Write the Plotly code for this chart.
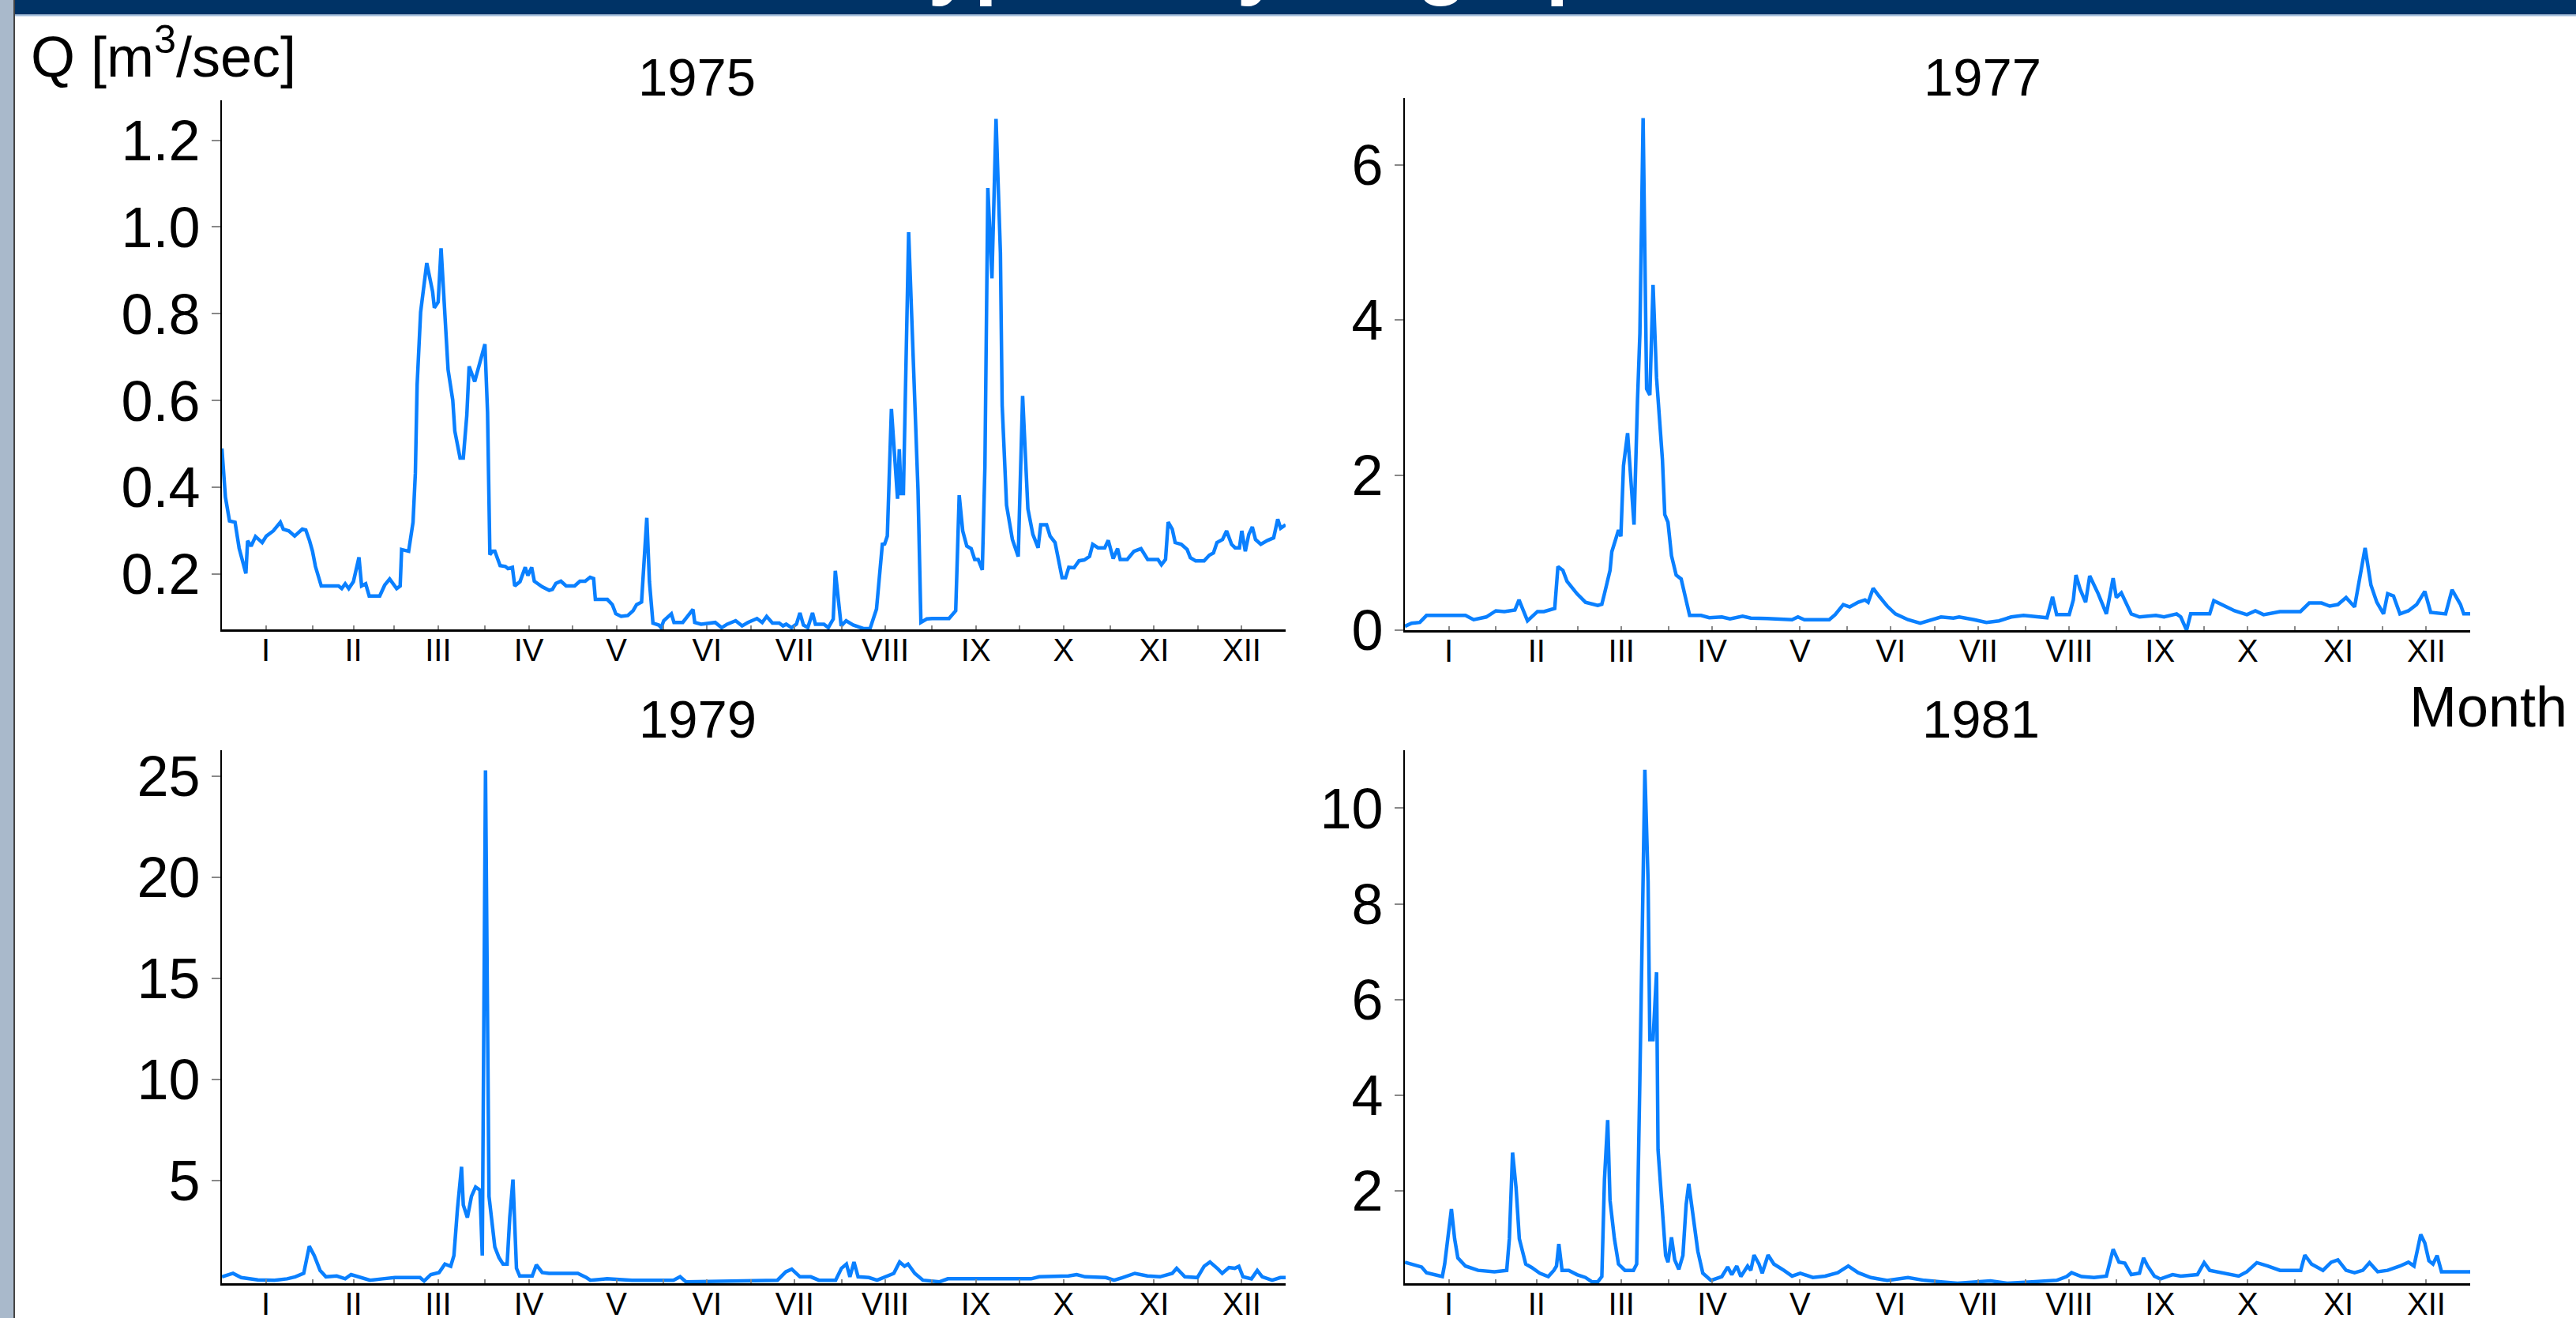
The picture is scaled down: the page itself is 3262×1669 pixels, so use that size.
import plotly.graph_objects as go

W, H = 3262, 1669
FONT = "Liberation Sans, Arial, sans-serif"
LINE_COLOR = "#0A80FF"

years = ["1975", "1977", "1979", "1981"]

# (day of year, Q [m3/sec])
q1975 = [(1, 0.49), (2.2, 0.378), (3.6, 0.323), (5.5, 0.32), (6.9, 0.26), (9.2, 0.202), (9.8, 0.277),
         (11, 0.265), (12.5, 0.287), (14.8, 0.273), (16.2, 0.288), (18.6, 0.30), (21, 0.32), (22, 0.304),
         (23.9, 0.30), (25.9, 0.288), (28.5, 0.304), (29.7, 0.302), (31, 0.277), (32, 0.253), (33, 0.218),
         (35, 0.173), (40.9, 0.173), (42, 0.167), (43.2, 0.178), (44.4, 0.167), (46, 0.183), (47.9, 0.239),
         (48.8, 0.173), (50.2, 0.178), (51.4, 0.15), (55, 0.15), (56.7, 0.175), (58.4, 0.189), (60.8, 0.167),
         (62, 0.173), (62.5, 0.257), (64.9, 0.253), (66.4, 0.32), (67.2, 0.433), (67.8, 0.636), (69, 0.804),
         (71.1, 0.917), (73.1, 0.851), (73.7, 0.814), (75, 0.827), (76, 0.951), (76.6, 0.882), (78.4, 0.671),
         (80, 0.601), (80.7, 0.530), (82.5, 0.468), (83.6, 0.468), (84.8, 0.566), (85.6, 0.679), (87.5, 0.644),
         (89.5, 0.695), (91, 0.73), (91.9, 0.573), (92.7, 0.245), (93.6, 0.253), (94.4, 0.253), (96.2, 0.22),
         (98, 0.218), (98.9, 0.213), (100.4, 0.216), (101.2, 0.173), (103, 0.183), (104.8, 0.216),
         (105.7, 0.197), (107, 0.216), (107.9, 0.184), (110.6, 0.171), (113, 0.163), (114.1, 0.165),
         (115.3, 0.179), (117, 0.184), (118.8, 0.173), (121.7, 0.173), (123.5, 0.184), (125.3, 0.184),
         (127, 0.193), (128.2, 0.19), (128.8, 0.142), (132.9, 0.142), (134.6, 0.13), (135.8, 0.109),
         (137.6, 0.103), (139.9, 0.105), (141.7, 0.116), (142.9, 0.13), (144.6, 0.136), (146.4, 0.33),
         (147.3, 0.183), (148.5, 0.0875), (150.5, 0.083), (151.3, 0.077), (152.2, 0.093), (154.8, 0.109),
         (155.7, 0.089), (158.7, 0.089), (162.2, 0.119), (162.8, 0.089), (165, 0.085), (169.8, 0.089),
         (172, 0.077), (173.9, 0.085), (176.8, 0.093), (179, 0.081), (181, 0.089), (184.1, 0.098),
         (185.9, 0.089), (187.4, 0.103), (189.4, 0.0875), (191.7, 0.0875), (193, 0.081), (194.1, 0.085),
         (195.9, 0.077), (197.6, 0.085), (198.8, 0.111), (200, 0.083), (201.5, 0.077), (203.1, 0.111),
         (204.1, 0.085), (207, 0.085), (208.5, 0.077), (210.2, 0.097), (210.9, 0.208), (212.9, 0.081),
         (214.6, 0.093), (217, 0.083), (219.3, 0.079), (220.5, 0.075), (222.8, 0.075), (225, 0.12),
         (227, 0.269), (227.8, 0.27), (228.7, 0.288), (230.1, 0.581), (232.2, 0.374), (232.8, 0.488),
         (233.4, 0.386), (234.2, 0.386), (236, 0.988), (237.5, 0.683), (239.2, 0.394), (240.2, 0.089),
         (242.2, 0.097), (244, 0.098), (249.8, 0.098), (252.1, 0.116), (253.3, 0.382), (254.5, 0.30),
         (255.9, 0.265), (257.4, 0.259), (258.6, 0.234), (259.8, 0.234), (261.2, 0.21), (262.1, 0.448),
         (263.1, 1.09), (264.5, 0.882), (265.9, 1.249), (267.4, 0.94), (268, 0.589), (269.5, 0.359),
         (271.5, 0.28), (273.5, 0.241), (275, 0.611), (276.8, 0.351), (278.5, 0.292), (280.3, 0.261),
         (281.2, 0.314), (283.2, 0.314), (284.4, 0.288), (286.1, 0.273), (287.3, 0.234), (288.5, 0.192),
         (289.7, 0.192), (290.8, 0.216), (292.6, 0.215), (294.3, 0.231), (296.1, 0.233), (297.9, 0.241),
         (299, 0.269), (300.8, 0.261), (303.1, 0.261), (304.3, 0.278), (306, 0.236), (307.5, 0.259),
         (308.4, 0.234), (310.8, 0.234), (313.1, 0.253), (315.5, 0.259), (317.8, 0.234), (321.3, 0.234),
         (322.5, 0.222), (323.9, 0.234), (324.8, 0.32), (326.2, 0.304), (327.2, 0.273), (329.3, 0.269),
         (331.3, 0.257), (332.4, 0.238), (334.2, 0.231), (337.1, 0.231), (338.9, 0.244), (340.3, 0.249),
         (341.5, 0.273), (343.4, 0.28), (344.8, 0.30), (346.5, 0.269), (347.7, 0.261), (349.2, 0.261),
         (350, 0.30), (351.2, 0.253), (352.4, 0.292), (353.6, 0.309), (354.7, 0.28), (356.5, 0.269),
         (358.8, 0.278), (360.9, 0.284), (362.3, 0.327), (363.3, 0.306), (365, 0.314)]

q1977 = [(1, 0.05), (3.3, 0.09), (6.1, 0.10), (8.4, 0.19), (21.7, 0.19), (24.5, 0.135), (28.8, 0.17),
         (32.1, 0.25), (35, 0.24), (38.6, 0.26), (40, 0.39), (42.9, 0.12), (46.3, 0.24), (48.5, 0.24),
         (52.2, 0.28), (53.3, 0.82), (55, 0.77), (56.4, 0.63), (59.8, 0.47), (62.7, 0.36), (66.9, 0.32),
         (68.3, 0.335), (69.2, 0.47), (71.1, 0.77), (71.7, 1.01), (74, 1.29), (74.8, 1.21), (75.7, 2.12),
         (77.1, 2.54), (78.2, 1.93), (79.3, 1.36), (80.5, 2.98), (81.3, 3.82), (82.4, 6.6), (83.6, 3.11),
         (84.7, 3.03), (85.8, 4.45), (87, 3.25), (88.1, 2.74), (89, 2.2), (89.8, 1.49), (90.9, 1.39),
         (92.1, 0.96), (93.7, 0.71), (95.4, 0.66), (96.6, 0.47), (98.3, 0.19), (102.2, 0.19), (105, 0.16),
         (109.3, 0.17), (112.1, 0.145), (116.4, 0.18), (119.2, 0.155), (124.8, 0.15), (130.5, 0.135),
         (133.3, 0.135), (135.3, 0.17), (137.5, 0.135), (146, 0.135), (148, 0.2), (150.8, 0.33), (153, 0.30),
         (155.9, 0.36), (158.2, 0.39), (159.3, 0.36), (161, 0.54), (163, 0.44), (165.8, 0.31), (168.6, 0.21),
         (172.9, 0.135), (177.1, 0.09), (181.4, 0.135), (184.2, 0.17), (188.4, 0.155), (190.4, 0.17),
         (195.5, 0.135), (199.7, 0.10), (204, 0.12), (208.2, 0.17), (212.4, 0.19), (216.7, 0.17),
         (220.4, 0.16), (222.3, 0.43), (223.7, 0.2), (228, 0.2), (229.4, 0.39), (230.3, 0.71), (231.7, 0.53),
         (233.6, 0.36), (235, 0.70), (237.9, 0.47), (240.7, 0.21), (243, 0.67), (244.1, 0.42), (245.8, 0.48),
         (249.2, 0.21), (252, 0.17), (257.6, 0.19), (260.4, 0.17), (264.7, 0.21), (266.1, 0.17), (268.1, 0.0),
         (269.5, 0.21), (276, 0.21), (277.4, 0.38), (280.3, 0.33), (284.5, 0.25), (288.7, 0.2), (291.6, 0.25),
         (294.4, 0.2), (300, 0.24), (307, 0.24), (310, 0.35), (314.2, 0.35), (317, 0.31), (319.8, 0.33),
         (322.6, 0.42), (325.5, 0.30), (326.9, 0.60), (329.1, 1.06), (331.1, 0.58), (333.1, 0.36),
         (335.4, 0.21), (336.8, 0.47), (338.8, 0.44), (341, 0.21), (343.9, 0.25), (346.7, 0.33), (349.5, 0.50),
         (351.5, 0.23), (356.6, 0.21), (358.8, 0.52), (361.7, 0.33), (362.8, 0.21), (365, 0.21)]

q1979 = [(1, 0.25), (4.8, 0.42), (7.6, 0.21), (13.3, 0.10), (19, 0.08), (23.3, 0.15), (26.1, 0.25),
         (29, 0.42), (30.9, 1.76), (32.6, 1.3), (34.6, 0.56), (36.6, 0.25), (40.3, 0.29), (43.2, 0.15),
         (45.2, 0.36), (48.9, 0.21), (51.7, 0.08), (56, 0.15), (60.2, 0.21), (68.8, 0.21), (70.2, 0.04),
         (72.5, 0.36), (75.3, 0.46), (77.3, 0.88), (79.3, 0.77), (80.4, 1.30), (81.6, 3.6), (83, 5.69),
         (83.6, 3.8), (85, 3.18), (86.4, 4.23), (87.8, 4.69), (89.3, 4.54), (90.1, 1.30), (91.2, 25.3),
         (92.4, 4.23), (94.4, 1.72), (95.8, 1.20), (97.2, 0.88), (98.6, 0.88), (99.5, 3.18), (100.6, 5.06),
         (101.8, 0.67), (102.9, 0.29), (107.2, 0.29), (108.6, 0.84), (110.6, 0.46), (112.9, 0.42),
         (122.8, 0.42), (125.7, 0.21), (127.1, 0.08), (132.8, 0.15), (141.3, 0.08), (155.5, 0.08),
         (157.8, 0.25), (159.8, 0.0), (181.2, 0.04), (191.1, 0.08), (194, 0.5), (196, 0.63), (198.8, 0.25),
         (202.5, 0.25), (205.3, 0.08), (211, 0.08), (213, 0.67), (214.7, 0.88), (215.9, 0.25), (217.3, 0.98),
         (218.7, 0.25), (222.4, 0.21), (225.2, 0.08), (228.1, 0.25), (230.9, 0.42), (232.9, 0.98),
         (234.6, 0.77), (235.8, 0.88), (238.1, 0.42), (240.9, 0.08), (246.6, 0.0), (249.4, 0.15),
         (277.9, 0.15), (280.7, 0.25), (290.7, 0.29), (293.5, 0.36), (296.4, 0.25), (303.5, 0.21),
         (306.3, 0.08), (309.2, 0.21), (313.4, 0.42), (317.7, 0.29), (322, 0.25), (326.2, 0.42),
         (327.7, 0.67), (330.5, 0.25), (334.8, 0.21), (337.1, 0.77), (339.1, 0.98), (341.9, 0.63),
         (343.3, 0.42), (345.6, 0.71), (347.6, 0.67), (349, 0.77), (350.4, 0.25), (353.3, 0.15),
         (355.3, 0.56), (357, 0.25), (360.4, 0.08), (363.2, 0.21), (365, 0.21)]

q1981 = [(1, 0.51), (3.3, 0.47), (6.7, 0.41), (8.4, 0.29), (11.2, 0.25), (13.8, 0.21), (14.6, 0.47),
         (15.8, 1.0), (16.9, 1.62), (18, 1.0), (19.1, 0.60), (21.7, 0.43), (26, 0.34), (31.6, 0.31),
         (34.4, 0.34), (35.8, 0.34), (36.7, 1.0), (37.8, 2.80), (39, 2.06), (40.1, 1.0), (42.3, 0.47),
         (44.3, 0.40), (47.1, 0.28), (50, 0.21), (51.9, 0.34), (52.8, 0.43), (53.6, 0.89), (54.7, 0.34),
         (57, 0.34), (59.8, 0.25), (62.7, 0.19), (64.9, 0.10), (66.9, 0.10), (68.3, 0.21), (69.2, 2.24),
         (70.3, 3.48), (71.1, 1.80), (72.6, 1.0), (74, 0.47), (76.2, 0.34), (79.1, 0.34), (80.2, 0.47),
         (81.3, 4.36), (82.2, 7.72), (83, 10.8), (84.1, 8.47), (84.7, 5.16), (85.8, 5.16), (87, 6.57),
         (87.5, 2.86), (88.7, 1.71), (90.1, 0.65), (90.9, 0.51), (92.1, 1.03), (93.2, 0.56), (94.6, 0.36),
         (96, 0.65), (97.1, 1.71), (98, 2.15), (99.4, 1.53), (101.1, 0.74), (102.8, 0.28), (105.6, 0.13),
         (109.3, 0.21), (111.3, 0.41), (112.7, 0.25), (114.4, 0.43), (115.8, 0.21), (118.1, 0.43),
         (119.2, 0.34), (120.3, 0.66), (122, 0.47), (123.1, 0.28), (125.1, 0.66), (127.1, 0.47),
         (130.5, 0.34), (133.3, 0.22), (136.1, 0.28), (140.4, 0.19), (144.6, 0.22), (148.9, 0.29),
         (152.5, 0.43), (155.9, 0.29), (160.2, 0.19), (165.8, 0.13), (172.9, 0.19), (178.5, 0.13),
         (184.2, 0.10), (189.8, 0.07), (201.1, 0.12), (206.8, 0.07), (215.3, 0.10), (223.7, 0.13),
         (227.1, 0.21), (228.8, 0.29), (232.2, 0.21), (236.5, 0.19), (240.7, 0.22), (243, 0.78), (245, 0.51),
         (247, 0.49), (249.2, 0.25), (252, 0.28), (253.4, 0.60), (254.8, 0.43), (257.1, 0.22), (259.1, 0.16),
         (263.3, 0.25), (266.1, 0.22), (271.8, 0.25), (274.1, 0.50), (276, 0.34), (280.3, 0.28),
         (285.9, 0.22), (288.7, 0.31), (292.1, 0.50), (295.8, 0.43), (300, 0.34), (307.1, 0.34),
         (308.5, 0.66), (310.8, 0.47), (314.7, 0.34), (317.5, 0.51), (319.8, 0.56), (322.6, 0.34),
         (325.5, 0.29), (328.3, 0.34), (330.6, 0.50), (333.4, 0.31), (336.8, 0.34), (341, 0.43),
         (343.9, 0.51), (345.8, 0.43), (348.1, 1.09), (349.5, 0.91), (350.9, 0.54), (352.3, 0.47),
         (353.7, 0.65), (355.2, 0.31), (365, 0.31)]

series = [q1975, q1977, q1979, q1981]

# month axis
month_labels = ["I", "II", "III", "IV", "V", "VI", "VII", "VIII", "IX", "X", "XI", "XII"]
month_mid_days = [16, 46, 75, 106, 136, 167, 197, 228, 259, 289, 320, 350]
month_start_days = [32, 60, 91, 121, 152, 182, 213, 244, 274, 305, 335]

# y ticks per panel
yticks = [[0.2, 0.4, 0.6, 0.8, 1.0, 1.2], [0, 2, 4, 6], [5, 10, 15, 20, 25], [2, 4, 6, 8, 10]]
yformats = [".1f", "d", "d", "d"]
yranges = [[0.073, 1.292], [0, 6.86], [-0.07, 26.3], [0.07, 11.21]]

# panel boxes in pixels: (left, right, top, bottom)
boxes = [(281, 1628, 127, 797), (1779, 3128, 124, 798), (281, 1628, 950, 1625), (1779, 3128, 950, 1625)]
title_pos = [(882, 98), (2510, 98), (883, 910), (2508, 910)]


def px(x):
    return x / W


def py(y):
    return 1 - y / H


fig = go.Figure()
tickvals_x = month_mid_days + month_start_days
ticktext_x = month_labels + [""] * len(month_start_days)

layout = dict(
    width=W, height=H,
    margin=dict(l=0, r=0, t=0, b=0, autoexpand=False),
    paper_bgcolor="white", plot_bgcolor="white",
    showlegend=False,
    font=dict(family=FONT, color="black"),
)

for i, data in enumerate(series):
    n = "" if i == 0 else str(i + 1)
    days = [p[0] for p in data]
    vals = [p[1] for p in data]
    fig.add_trace(go.Scatter(x=days, y=vals, mode="lines", xaxis="x" + n, yaxis="y" + n,
                             line=dict(color=LINE_COLOR, width=4.5), hoverinfo="skip"))
    l, r, t, b = boxes[i]
    layout["xaxis" + n] = dict(
        domain=[px(l), px(r)], anchor="y" + n, range=[1, 365], automargin=False,
        showgrid=False, zeroline=False, showline=True, linecolor="black", linewidth=3,
        ticks="inside", ticklen=5, tickwidth=1.5, tickcolor="#888888",
        tickmode="array", tickvals=tickvals_x, ticktext=ticktext_x,
        tickfont=dict(size=40, family=FONT, color="black"), ticklabelstandoff=-11,
    )
    layout["yaxis" + n] = dict(
        domain=[py(b), py(t)], anchor="x" + n, range=yranges[i], automargin=False,
        showgrid=False, zeroline=False, showline=True, linecolor="black", linewidth=2,
        ticks="outside", ticklen=11, tickwidth=2, tickcolor="#888888",
        tickmode="array", tickvals=yticks[i], tickformat=yformats[i],
        tickfont=dict(size=72, family=FONT, color="black"),
    )

annotations = []
for i, (tx, ty) in enumerate(title_pos):
    annotations.append(dict(text=years[i], x=px(tx), y=py(ty), xref="paper", yref="paper",
                            xanchor="center", yanchor="middle", showarrow=False,
                            font=dict(size=67, family=FONT, color="black")))
annotations.append(dict(text="Q [m<sup>3</sup>/sec]", x=px(37), y=py(67), xref="paper", yref="paper",
                        xanchor="left", yanchor="middle", showarrow=False,
                        font=dict(size=72, family=FONT, color="black")))
annotations.append(dict(text="Month", x=px(3253), y=py(895), xref="paper", yref="paper",
                        xanchor="right", yanchor="middle", showarrow=False,
                        font=dict(size=72, family=FONT, color="black")))
annotations.append(dict(text="<b>Typical hydrographs</b>", x=0.5, y=py(10), xref="paper", yref="paper",
                        xanchor="center", yanchor="bottom", showarrow=False,
                        font=dict(size=105, family=FONT, color="white")))
layout["annotations"] = annotations

layout["shapes"] = [
    dict(type="rect", xref="paper", yref="paper", x0=0, x1=px(17), y0=0, y1=1,
         fillcolor="#A9B9CB", line=dict(width=0), layer="below"),
    dict(type="line", xref="paper", yref="paper", x0=px(18), x1=px(18), y0=0, y1=1,
         line=dict(color="#444444", width=2)),
    dict(type="rect", xref="paper", yref="paper", x0=px(19), x1=1, y0=py(18.5), y1=1,
         fillcolor="#003366", line=dict(width=0), layer="below"),
    dict(type="line", xref="paper", yref="paper", x0=px(19), x1=1, y0=py(19.5), y1=py(19.5),
         line=dict(color="#A3BFDD", width=2)),
]

fig.update_layout(**layout)
fig.write_html("out.html", config={"displayModeBar": False},
               post_script="document.body.style.margin='0';document.body.style.overflow='hidden';")
